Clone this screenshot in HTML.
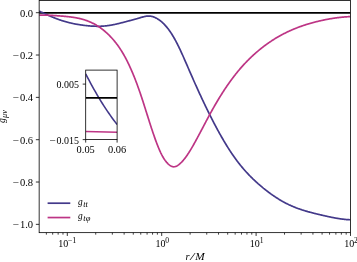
<!DOCTYPE html>
<html><head><meta charset="utf-8"><title>g_mu_nu plot</title>
<style>
html,body{margin:0;padding:0;background:#fff;width:357px;height:262px;overflow:hidden;}
svg{display:block;}
text{font-family:"Liberation Serif",serif;font-size:10px;fill:#000;}
.it{font-style:italic;}
.sup{font-size:7.6px;}
</style></head><body>
<svg width="357" height="262" viewBox="0 0 357 262">
<rect width="357" height="262" fill="#fff"/>
<defs><clipPath id="ax"><rect x="39.15" y="0.5" width="311.3" height="232.15"/></clipPath>
<clipPath id="in"><rect x="85.7" y="70.1" width="31.4" height="69.5"/></clipPath></defs>

<g clip-path="url(#ax)" fill="none" stroke-linejoin="round">
<line x1="39.15" x2="350.45" y1="12.8" y2="12.8" stroke="#000" stroke-width="1.7"/>
<path d="M39.20,11.10 L39.65,11.31 L40.09,11.52 L40.54,11.73 L40.98,11.94 L41.43,12.15 L41.87,12.36 L42.32,12.57 L42.76,12.78 L43.21,12.99 L43.65,13.19 L44.10,13.40 L44.54,13.60 L44.99,13.81 L45.43,14.01 L45.88,14.21 L46.32,14.42 L46.77,14.62 L47.21,14.82 L47.66,15.02 L48.10,15.21 L48.55,15.41 L48.99,15.60 L49.44,15.80 L49.88,15.99 L50.33,16.18 L50.78,16.37 L51.22,16.56 L51.67,16.75 L52.11,16.94 L52.56,17.12 L53.00,17.30 L53.45,17.49 L53.89,17.67 L54.34,17.84 L54.78,18.02 L55.23,18.20 L55.67,18.37 L56.12,18.54 L56.56,18.71 L57.01,18.88 L57.45,19.04 L57.90,19.21 L58.34,19.37 L58.79,19.53 L59.23,19.68 L59.68,19.84 L60.12,19.99 L60.57,20.14 L61.02,20.29 L61.46,20.44 L61.91,20.58 L62.35,20.72 L62.80,20.86 L63.24,21.00 L63.69,21.14 L64.13,21.27 L64.58,21.40 L65.02,21.53 L65.47,21.66 L65.91,21.78 L66.36,21.91 L66.80,22.03 L67.25,22.15 L67.69,22.26 L68.14,22.38 L68.58,22.49 L69.03,22.60 L69.47,22.71 L69.92,22.82 L70.36,22.93 L70.81,23.03 L71.25,23.13 L71.70,23.23 L72.15,23.33 L72.59,23.43 L73.04,23.52 L73.48,23.62 L73.93,23.71 L74.37,23.80 L74.82,23.88 L75.26,23.97 L75.71,24.06 L76.15,24.14 L76.60,24.22 L77.04,24.30 L77.49,24.38 L77.93,24.45 L78.38,24.53 L78.82,24.60 L79.27,24.67 L79.71,24.74 L80.16,24.81 L80.60,24.88 L81.05,24.94 L81.49,25.01 L81.94,25.07 L82.39,25.13 L82.83,25.19 L83.28,25.25 L83.72,25.31 L84.17,25.36 L84.61,25.42 L85.06,25.47 L85.50,25.52 L85.95,25.57 L86.39,25.62 L86.84,25.67 L87.28,25.72 L87.73,25.76 L88.17,25.80 L88.62,25.84 L89.06,25.88 L89.51,25.92 L89.95,25.96 L90.40,25.99 L90.84,26.03 L91.29,26.06 L91.73,26.09 L92.18,26.11 L92.62,26.14 L93.07,26.16 L93.52,26.18 L93.96,26.20 L94.41,26.22 L94.85,26.24 L95.30,26.25 L95.74,26.26 L96.19,26.27 L96.63,26.28 L97.08,26.28 L97.52,26.28 L97.97,26.28 L98.41,26.28 L98.86,26.28 L99.30,26.27 L99.75,26.26 L100.19,26.25 L100.64,26.23 L101.08,26.21 L101.53,26.19 L101.97,26.17 L102.42,26.15 L102.86,26.12 L103.31,26.09 L103.76,26.05 L104.20,26.02 L104.65,25.98 L105.09,25.94 L105.54,25.89 L105.98,25.84 L106.43,25.79 L106.87,25.74 L107.32,25.68 L107.76,25.62 L108.21,25.56 L108.65,25.50 L109.10,25.43 L109.54,25.36 L109.99,25.29 L110.43,25.22 L110.88,25.14 L111.32,25.06 L111.77,24.98 L112.21,24.90 L112.66,24.82 L113.10,24.73 L113.55,24.64 L113.99,24.55 L114.44,24.46 L114.89,24.37 L115.33,24.27 L115.78,24.18 L116.22,24.08 L116.67,23.98 L117.11,23.88 L117.56,23.78 L118.00,23.67 L118.45,23.57 L118.89,23.46 L119.34,23.35 L119.78,23.25 L120.23,23.14 L120.67,23.03 L121.12,22.91 L121.56,22.80 L122.01,22.69 L122.45,22.58 L122.90,22.46 L123.34,22.35 L123.79,22.23 L124.23,22.11 L124.68,22.00 L125.13,21.88 L125.57,21.76 L126.02,21.65 L126.46,21.53 L126.91,21.41 L127.35,21.29 L127.80,21.17 L128.24,21.05 L128.69,20.93 L129.13,20.81 L129.58,20.69 L130.02,20.57 L130.47,20.45 L130.91,20.33 L131.36,20.21 L131.80,20.08 L132.25,19.96 L132.69,19.84 L133.14,19.71 L133.58,19.59 L134.03,19.47 L134.47,19.34 L134.92,19.22 L135.36,19.09 L135.81,18.96 L136.26,18.84 L136.70,18.71 L137.15,18.59 L137.59,18.46 L138.04,18.33 L138.48,18.20 L138.93,18.07 L139.37,17.95 L139.82,17.82 L140.26,17.69 L140.71,17.56 L141.15,17.43 L141.60,17.30 L142.04,17.18 L142.49,17.06 L142.93,16.94 L143.38,16.82 L143.82,16.71 L144.27,16.61 L144.71,16.51 L145.16,16.42 L145.60,16.34 L146.05,16.27 L146.49,16.20 L146.94,16.15 L147.39,16.11 L147.83,16.07 L148.28,16.05 L148.72,16.05 L149.17,16.05 L149.61,16.07 L150.06,16.11 L150.50,16.16 L150.95,16.22 L151.39,16.31 L151.84,16.40 L152.28,16.51 L152.73,16.64 L153.17,16.78 L153.62,16.93 L154.06,17.10 L154.51,17.28 L154.95,17.47 L155.40,17.68 L155.84,17.90 L156.29,18.13 L156.73,18.37 L157.18,18.63 L157.63,18.90 L158.07,19.17 L158.52,19.47 L158.96,19.77 L159.41,20.08 L159.85,20.41 L160.30,20.75 L160.74,21.10 L161.19,21.46 L161.63,21.84 L162.08,22.23 L162.52,22.63 L162.97,23.04 L163.41,23.47 L163.86,23.91 L164.30,24.36 L164.75,24.83 L165.19,25.31 L165.64,25.81 L166.08,26.32 L166.53,26.85 L166.97,27.39 L167.42,27.94 L167.86,28.51 L168.31,29.09 L168.76,29.69 L169.20,30.30 L169.65,30.92 L170.09,31.56 L170.54,32.21 L170.98,32.88 L171.43,33.57 L171.87,34.26 L172.32,34.97 L172.76,35.70 L173.21,36.44 L173.65,37.19 L174.10,37.96 L174.54,38.75 L174.99,39.54 L175.43,40.36 L175.88,41.18 L176.32,42.02 L176.77,42.88 L177.21,43.75 L177.66,44.63 L178.10,45.52 L178.55,46.43 L179.00,47.34 L179.44,48.27 L179.89,49.21 L180.33,50.15 L180.78,51.11 L181.22,52.07 L181.67,53.05 L182.11,54.03 L182.56,55.02 L183.00,56.01 L183.45,57.01 L183.89,58.02 L184.34,59.03 L184.78,60.04 L185.23,61.06 L185.67,62.08 L186.12,63.11 L186.56,64.13 L187.01,65.16 L187.45,66.19 L187.90,67.22 L188.34,68.25 L188.79,69.28 L189.23,70.31 L189.68,71.34 L190.13,72.37 L190.57,73.39 L191.02,74.41 L191.46,75.43 L191.91,76.45 L192.35,77.46 L192.80,78.47 L193.24,79.48 L193.69,80.48 L194.13,81.49 L194.58,82.49 L195.02,83.48 L195.47,84.48 L195.91,85.47 L196.36,86.46 L196.80,87.45 L197.25,88.43 L197.69,89.41 L198.14,90.39 L198.58,91.36 L199.03,92.33 L199.47,93.30 L199.92,94.27 L200.37,95.23 L200.81,96.19 L201.26,97.15 L201.70,98.10 L202.15,99.05 L202.59,100.00 L203.04,100.94 L203.48,101.88 L203.93,102.82 L204.37,103.75 L204.82,104.68 L205.26,105.61 L205.71,106.53 L206.15,107.45 L206.60,108.37 L207.04,109.28 L207.49,110.19 L207.93,111.10 L208.38,112.00 L208.82,112.90 L209.27,113.80 L209.71,114.69 L210.16,115.58 L210.60,116.46 L211.05,117.34 L211.50,118.22 L211.94,119.09 L212.39,119.96 L212.83,120.82 L213.28,121.69 L213.72,122.54 L214.17,123.40 L214.61,124.25 L215.06,125.09 L215.50,125.93 L215.95,126.77 L216.39,127.60 L216.84,128.43 L217.28,129.25 L217.73,130.07 L218.17,130.89 L218.62,131.70 L219.06,132.50 L219.51,133.30 L219.95,134.10 L220.40,134.89 L220.84,135.68 L221.29,136.46 L221.74,137.24 L222.18,138.02 L222.63,138.79 L223.07,139.55 L223.52,140.31 L223.96,141.06 L224.41,141.81 L224.85,142.56 L225.30,143.30 L225.74,144.03 L226.19,144.76 L226.63,145.49 L227.08,146.21 L227.52,146.92 L227.97,147.63 L228.41,148.33 L228.86,149.03 L229.30,149.72 L229.75,150.41 L230.19,151.09 L230.64,151.77 L231.08,152.44 L231.53,153.11 L231.97,153.77 L232.42,154.42 L232.87,155.07 L233.31,155.71 L233.76,156.35 L234.20,156.98 L234.65,157.61 L235.09,158.23 L235.54,158.84 L235.98,159.45 L236.43,160.05 L236.87,160.65 L237.32,161.24 L237.76,161.82 L238.21,162.40 L238.65,162.98 L239.10,163.55 L239.54,164.11 L239.99,164.67 L240.43,165.22 L240.88,165.77 L241.32,166.32 L241.77,166.85 L242.21,167.39 L242.66,167.92 L243.11,168.44 L243.55,168.96 L244.00,169.47 L244.44,169.98 L244.89,170.49 L245.33,170.99 L245.78,171.48 L246.22,171.97 L246.67,172.46 L247.11,172.94 L247.56,173.42 L248.00,173.89 L248.45,174.36 L248.89,174.83 L249.34,175.29 L249.78,175.75 L250.23,176.20 L250.67,176.65 L251.12,177.10 L251.56,177.54 L252.01,177.98 L252.45,178.42 L252.90,178.85 L253.34,179.28 L253.79,179.70 L254.24,180.12 L254.68,180.54 L255.13,180.96 L255.57,181.37 L256.02,181.78 L256.46,182.18 L256.91,182.59 L257.35,182.99 L257.80,183.38 L258.24,183.78 L258.69,184.17 L259.13,184.56 L259.58,184.95 L260.02,185.33 L260.47,185.71 L260.91,186.09 L261.36,186.47 L261.80,186.84 L262.25,187.21 L262.69,187.58 L263.14,187.94 L263.58,188.31 L264.03,188.67 L264.47,189.03 L264.92,189.38 L265.37,189.74 L265.81,190.09 L266.26,190.44 L266.70,190.78 L267.15,191.12 L267.59,191.46 L268.04,191.80 L268.48,192.14 L268.93,192.47 L269.37,192.80 L269.82,193.13 L270.26,193.45 L270.71,193.78 L271.15,194.10 L271.60,194.41 L272.04,194.73 L272.49,195.04 L272.93,195.35 L273.38,195.66 L273.82,195.96 L274.27,196.26 L274.71,196.56 L275.16,196.86 L275.61,197.15 L276.05,197.44 L276.50,197.73 L276.94,198.01 L277.39,198.30 L277.83,198.58 L278.28,198.86 L278.72,199.13 L279.17,199.40 L279.61,199.67 L280.06,199.94 L280.50,200.20 L280.95,200.47 L281.39,200.73 L281.84,200.98 L282.28,201.24 L282.73,201.49 L283.17,201.74 L283.62,201.98 L284.06,202.22 L284.51,202.46 L284.95,202.70 L285.40,202.94 L285.84,203.17 L286.29,203.40 L286.74,203.62 L287.18,203.85 L287.63,204.07 L288.07,204.29 L288.52,204.50 L288.96,204.72 L289.41,204.93 L289.85,205.13 L290.30,205.34 L290.74,205.54 L291.19,205.74 L291.63,205.94 L292.08,206.13 L292.52,206.32 L292.97,206.51 L293.41,206.70 L293.86,206.88 L294.30,207.06 L294.75,207.24 L295.19,207.42 L295.64,207.59 L296.08,207.77 L296.53,207.94 L296.98,208.10 L297.42,208.27 L297.87,208.43 L298.31,208.60 L298.76,208.75 L299.20,208.91 L299.65,209.07 L300.09,209.22 L300.54,209.37 L300.98,209.52 L301.43,209.67 L301.87,209.82 L302.32,209.96 L302.76,210.10 L303.21,210.24 L303.65,210.38 L304.10,210.52 L304.54,210.66 L304.99,210.79 L305.43,210.93 L305.88,211.06 L306.32,211.19 L306.77,211.32 L307.21,211.44 L307.66,211.57 L308.11,211.70 L308.55,211.82 L309.00,211.94 L309.44,212.06 L309.89,212.19 L310.33,212.30 L310.78,212.42 L311.22,212.54 L311.67,212.66 L312.11,212.77 L312.56,212.89 L313.00,213.00 L313.45,213.11 L313.89,213.23 L314.34,213.34 L314.78,213.45 L315.23,213.56 L315.67,213.67 L316.12,213.78 L316.56,213.89 L317.01,213.99 L317.45,214.10 L317.90,214.21 L318.35,214.31 L318.79,214.42 L319.24,214.53 L319.68,214.63 L320.13,214.74 L320.57,214.84 L321.02,214.95 L321.46,215.05 L321.91,215.16 L322.35,215.26 L322.80,215.37 L323.24,215.47 L323.69,215.57 L324.13,215.67 L324.58,215.78 L325.02,215.88 L325.47,215.98 L325.91,216.08 L326.36,216.18 L326.80,216.28 L327.25,216.38 L327.69,216.47 L328.14,216.57 L328.58,216.67 L329.03,216.76 L329.48,216.86 L329.92,216.95 L330.37,217.04 L330.81,217.13 L331.26,217.23 L331.70,217.32 L332.15,217.40 L332.59,217.49 L333.04,217.58 L333.48,217.66 L333.93,217.75 L334.37,217.83 L334.82,217.91 L335.26,218.00 L335.71,218.07 L336.15,218.15 L336.60,218.23 L337.04,218.31 L337.49,218.38 L337.93,218.45 L338.38,218.52 L338.82,218.59 L339.27,218.66 L339.72,218.73 L340.16,218.79 L340.61,218.86 L341.05,218.92 L341.50,218.98 L341.94,219.04 L342.39,219.10 L342.83,219.15 L343.28,219.21 L343.72,219.26 L344.17,219.31 L344.61,219.36 L345.06,219.40 L345.50,219.45 L345.95,219.49 L346.39,219.53 L346.84,219.57 L347.28,219.60 L347.73,219.64 L348.17,219.67 L348.62,219.70 L349.06,219.72 L349.51,219.75 L349.95,219.77 L350.40,219.79" stroke="#43398a" stroke-width="1.7"/>
<path d="M39.20,15.20 L39.65,15.18 L40.09,15.17 L40.54,15.16 L40.98,15.15 L41.43,15.14 L41.87,15.13 L42.32,15.13 L42.76,15.13 L43.21,15.13 L43.65,15.13 L44.10,15.13 L44.54,15.14 L44.99,15.14 L45.43,15.15 L45.88,15.16 L46.32,15.17 L46.77,15.18 L47.21,15.19 L47.66,15.21 L48.10,15.22 L48.55,15.24 L48.99,15.26 L49.44,15.28 L49.88,15.30 L50.33,15.32 L50.78,15.34 L51.22,15.37 L51.67,15.39 L52.11,15.42 L52.56,15.44 L53.00,15.47 L53.45,15.50 L53.89,15.53 L54.34,15.56 L54.78,15.59 L55.23,15.62 L55.67,15.65 L56.12,15.68 L56.56,15.71 L57.01,15.74 L57.45,15.78 L57.90,15.81 L58.34,15.84 L58.79,15.88 L59.23,15.91 L59.68,15.94 L60.12,15.98 L60.57,16.01 L61.02,16.05 L61.46,16.08 L61.91,16.12 L62.35,16.15 L62.80,16.19 L63.24,16.22 L63.69,16.26 L64.13,16.30 L64.58,16.34 L65.02,16.38 L65.47,16.42 L65.91,16.46 L66.36,16.50 L66.80,16.54 L67.25,16.59 L67.69,16.63 L68.14,16.68 L68.58,16.73 L69.03,16.78 L69.47,16.83 L69.92,16.88 L70.36,16.93 L70.81,16.99 L71.25,17.05 L71.70,17.10 L72.15,17.17 L72.59,17.23 L73.04,17.29 L73.48,17.36 L73.93,17.43 L74.37,17.50 L74.82,17.57 L75.26,17.65 L75.71,17.73 L76.15,17.81 L76.60,17.89 L77.04,17.98 L77.49,18.07 L77.93,18.16 L78.38,18.25 L78.82,18.35 L79.27,18.45 L79.71,18.55 L80.16,18.66 L80.60,18.77 L81.05,18.88 L81.49,19.00 L81.94,19.12 L82.39,19.24 L82.83,19.37 L83.28,19.50 L83.72,19.63 L84.17,19.77 L84.61,19.91 L85.06,20.05 L85.50,20.20 L85.95,20.35 L86.39,20.51 L86.84,20.67 L87.28,20.83 L87.73,21.00 L88.17,21.17 L88.62,21.35 L89.06,21.53 L89.51,21.72 L89.95,21.91 L90.40,22.10 L90.84,22.30 L91.29,22.51 L91.73,22.72 L92.18,22.93 L92.62,23.15 L93.07,23.37 L93.52,23.60 L93.96,23.83 L94.41,24.07 L94.85,24.32 L95.30,24.57 L95.74,24.82 L96.19,25.08 L96.63,25.35 L97.08,25.62 L97.52,25.89 L97.97,26.17 L98.41,26.46 L98.86,26.76 L99.30,27.05 L99.75,27.36 L100.19,27.67 L100.64,27.99 L101.08,28.31 L101.53,28.64 L101.97,28.97 L102.42,29.31 L102.86,29.66 L103.31,30.02 L103.76,30.37 L104.20,30.74 L104.65,31.11 L105.09,31.49 L105.54,31.88 L105.98,32.27 L106.43,32.67 L106.87,33.08 L107.32,33.49 L107.76,33.91 L108.21,34.33 L108.65,34.77 L109.10,35.21 L109.54,35.66 L109.99,36.11 L110.43,36.57 L110.88,37.04 L111.32,37.52 L111.77,38.00 L112.21,38.50 L112.66,39.00 L113.10,39.50 L113.55,40.02 L113.99,40.55 L114.44,41.08 L114.89,41.63 L115.33,42.18 L115.78,42.75 L116.22,43.32 L116.67,43.91 L117.11,44.50 L117.56,45.10 L118.00,45.72 L118.45,46.34 L118.89,46.98 L119.34,47.63 L119.78,48.29 L120.23,48.96 L120.67,49.64 L121.12,50.34 L121.56,51.05 L122.01,51.77 L122.45,52.50 L122.90,53.24 L123.34,54.00 L123.79,54.78 L124.23,55.56 L124.68,56.36 L125.13,57.17 L125.57,58.00 L126.02,58.84 L126.46,59.70 L126.91,60.57 L127.35,61.45 L127.80,62.35 L128.24,63.26 L128.69,64.18 L129.13,65.13 L129.58,66.08 L130.02,67.05 L130.47,68.03 L130.91,69.03 L131.36,70.04 L131.80,71.07 L132.25,72.11 L132.69,73.16 L133.14,74.23 L133.58,75.31 L134.03,76.41 L134.47,77.52 L134.92,78.65 L135.36,79.79 L135.81,80.94 L136.26,82.11 L136.70,83.30 L137.15,84.50 L137.59,85.71 L138.04,86.94 L138.48,88.18 L138.93,89.44 L139.37,90.71 L139.82,92.00 L140.26,93.30 L140.71,94.61 L141.15,95.94 L141.60,97.28 L142.04,98.63 L142.49,99.99 L142.93,101.36 L143.38,102.74 L143.82,104.13 L144.27,105.52 L144.71,106.92 L145.16,108.33 L145.60,109.73 L146.05,111.14 L146.49,112.55 L146.94,113.96 L147.39,115.37 L147.83,116.78 L148.28,118.19 L148.72,119.60 L149.17,121.00 L149.61,122.39 L150.06,123.78 L150.50,125.16 L150.95,126.54 L151.39,127.90 L151.84,129.26 L152.28,130.60 L152.73,131.93 L153.17,133.25 L153.62,134.56 L154.06,135.85 L154.51,137.12 L154.95,138.38 L155.40,139.62 L155.84,140.84 L156.29,142.04 L156.73,143.22 L157.18,144.38 L157.63,145.52 L158.07,146.63 L158.52,147.72 L158.96,148.78 L159.41,149.82 L159.85,150.83 L160.30,151.81 L160.74,152.76 L161.19,153.67 L161.63,154.56 L162.08,155.42 L162.52,156.24 L162.97,157.03 L163.41,157.78 L163.86,158.50 L164.30,159.20 L164.75,159.86 L165.19,160.49 L165.64,161.08 L166.08,161.65 L166.53,162.19 L166.97,162.70 L167.42,163.18 L167.86,163.64 L168.31,164.06 L168.76,164.46 L169.20,164.82 L169.65,165.17 L170.09,165.48 L170.54,165.76 L170.98,166.01 L171.43,166.23 L171.87,166.41 L172.32,166.56 L172.76,166.67 L173.21,166.75 L173.65,166.78 L174.10,166.78 L174.54,166.73 L174.99,166.65 L175.43,166.53 L175.88,166.37 L176.32,166.18 L176.77,165.96 L177.21,165.72 L177.66,165.44 L178.10,165.14 L178.55,164.82 L179.00,164.48 L179.44,164.12 L179.89,163.74 L180.33,163.34 L180.78,162.93 L181.22,162.49 L181.67,162.04 L182.11,161.58 L182.56,161.09 L183.00,160.59 L183.45,160.08 L183.89,159.55 L184.34,159.00 L184.78,158.44 L185.23,157.86 L185.67,157.27 L186.12,156.66 L186.56,156.04 L187.01,155.40 L187.45,154.75 L187.90,154.09 L188.34,153.41 L188.79,152.73 L189.23,152.03 L189.68,151.32 L190.13,150.60 L190.57,149.87 L191.02,149.13 L191.46,148.38 L191.91,147.63 L192.35,146.86 L192.80,146.09 L193.24,145.31 L193.69,144.52 L194.13,143.73 L194.58,142.93 L195.02,142.13 L195.47,141.32 L195.91,140.51 L196.36,139.69 L196.80,138.87 L197.25,138.04 L197.69,137.22 L198.14,136.39 L198.58,135.56 L199.03,134.72 L199.47,133.89 L199.92,133.05 L200.37,132.21 L200.81,131.37 L201.26,130.52 L201.70,129.68 L202.15,128.83 L202.59,127.99 L203.04,127.14 L203.48,126.30 L203.93,125.45 L204.37,124.61 L204.82,123.76 L205.26,122.92 L205.71,122.07 L206.15,121.23 L206.60,120.39 L207.04,119.55 L207.49,118.72 L207.93,117.88 L208.38,117.05 L208.82,116.22 L209.27,115.40 L209.71,114.57 L210.16,113.75 L210.60,112.94 L211.05,112.13 L211.50,111.32 L211.94,110.51 L212.39,109.71 L212.83,108.92 L213.28,108.13 L213.72,107.34 L214.17,106.56 L214.61,105.78 L215.06,105.01 L215.50,104.24 L215.95,103.48 L216.39,102.72 L216.84,101.96 L217.28,101.21 L217.73,100.47 L218.17,99.73 L218.62,98.99 L219.06,98.26 L219.51,97.53 L219.95,96.81 L220.40,96.09 L220.84,95.37 L221.29,94.67 L221.74,93.96 L222.18,93.26 L222.63,92.56 L223.07,91.87 L223.52,91.19 L223.96,90.50 L224.41,89.82 L224.85,89.15 L225.30,88.48 L225.74,87.82 L226.19,87.16 L226.63,86.50 L227.08,85.85 L227.52,85.21 L227.97,84.56 L228.41,83.93 L228.86,83.29 L229.30,82.66 L229.75,82.04 L230.19,81.42 L230.64,80.81 L231.08,80.20 L231.53,79.59 L231.97,78.99 L232.42,78.39 L232.87,77.80 L233.31,77.21 L233.76,76.63 L234.20,76.05 L234.65,75.48 L235.09,74.91 L235.54,74.34 L235.98,73.78 L236.43,73.22 L236.87,72.67 L237.32,72.13 L237.76,71.58 L238.21,71.04 L238.65,70.51 L239.10,69.98 L239.54,69.45 L239.99,68.93 L240.43,68.41 L240.88,67.90 L241.32,67.39 L241.77,66.89 L242.21,66.39 L242.66,65.89 L243.11,65.39 L243.55,64.91 L244.00,64.42 L244.44,63.94 L244.89,63.46 L245.33,62.99 L245.78,62.52 L246.22,62.05 L246.67,61.59 L247.11,61.13 L247.56,60.68 L248.00,60.23 L248.45,59.78 L248.89,59.34 L249.34,58.90 L249.78,58.46 L250.23,58.03 L250.67,57.60 L251.12,57.17 L251.56,56.75 L252.01,56.33 L252.45,55.91 L252.90,55.50 L253.34,55.09 L253.79,54.69 L254.24,54.28 L254.68,53.88 L255.13,53.49 L255.57,53.09 L256.02,52.70 L256.46,52.32 L256.91,51.93 L257.35,51.55 L257.80,51.18 L258.24,50.80 L258.69,50.43 L259.13,50.06 L259.58,49.70 L260.02,49.33 L260.47,48.97 L260.91,48.62 L261.36,48.26 L261.80,47.91 L262.25,47.56 L262.69,47.21 L263.14,46.87 L263.58,46.53 L264.03,46.19 L264.47,45.86 L264.92,45.53 L265.37,45.20 L265.81,44.87 L266.26,44.55 L266.70,44.22 L267.15,43.90 L267.59,43.59 L268.04,43.27 L268.48,42.96 L268.93,42.65 L269.37,42.35 L269.82,42.05 L270.26,41.74 L270.71,41.45 L271.15,41.15 L271.60,40.86 L272.04,40.57 L272.49,40.28 L272.93,39.99 L273.38,39.71 L273.82,39.43 L274.27,39.15 L274.71,38.87 L275.16,38.60 L275.61,38.33 L276.05,38.06 L276.50,37.79 L276.94,37.53 L277.39,37.27 L277.83,37.01 L278.28,36.75 L278.72,36.49 L279.17,36.24 L279.61,35.99 L280.06,35.74 L280.50,35.49 L280.95,35.25 L281.39,35.01 L281.84,34.77 L282.28,34.53 L282.73,34.30 L283.17,34.06 L283.62,33.83 L284.06,33.60 L284.51,33.38 L284.95,33.15 L285.40,32.93 L285.84,32.71 L286.29,32.49 L286.74,32.27 L287.18,32.06 L287.63,31.84 L288.07,31.63 L288.52,31.43 L288.96,31.22 L289.41,31.01 L289.85,30.81 L290.30,30.61 L290.74,30.41 L291.19,30.21 L291.63,30.02 L292.08,29.82 L292.52,29.63 L292.97,29.44 L293.41,29.26 L293.86,29.07 L294.30,28.89 L294.75,28.70 L295.19,28.52 L295.64,28.34 L296.08,28.17 L296.53,27.99 L296.98,27.82 L297.42,27.64 L297.87,27.47 L298.31,27.31 L298.76,27.14 L299.20,26.97 L299.65,26.81 L300.09,26.65 L300.54,26.49 L300.98,26.33 L301.43,26.17 L301.87,26.01 L302.32,25.86 L302.76,25.71 L303.21,25.56 L303.65,25.41 L304.10,25.26 L304.54,25.11 L304.99,24.97 L305.43,24.82 L305.88,24.68 L306.32,24.54 L306.77,24.40 L307.21,24.26 L307.66,24.13 L308.11,23.99 L308.55,23.86 L309.00,23.73 L309.44,23.59 L309.89,23.47 L310.33,23.34 L310.78,23.21 L311.22,23.08 L311.67,22.96 L312.11,22.84 L312.56,22.72 L313.00,22.59 L313.45,22.48 L313.89,22.36 L314.34,22.24 L314.78,22.12 L315.23,22.01 L315.67,21.90 L316.12,21.78 L316.56,21.67 L317.01,21.56 L317.45,21.46 L317.90,21.35 L318.35,21.24 L318.79,21.14 L319.24,21.03 L319.68,20.93 L320.13,20.83 L320.57,20.72 L321.02,20.62 L321.46,20.52 L321.91,20.43 L322.35,20.33 L322.80,20.23 L323.24,20.14 L323.69,20.05 L324.13,19.95 L324.58,19.86 L325.02,19.77 L325.47,19.68 L325.91,19.59 L326.36,19.51 L326.80,19.42 L327.25,19.33 L327.69,19.25 L328.14,19.17 L328.58,19.09 L329.03,19.01 L329.48,18.93 L329.92,18.85 L330.37,18.77 L330.81,18.70 L331.26,18.62 L331.70,18.55 L332.15,18.47 L332.59,18.40 L333.04,18.33 L333.48,18.27 L333.93,18.20 L334.37,18.13 L334.82,18.07 L335.26,18.00 L335.71,17.94 L336.15,17.88 L336.60,17.82 L337.04,17.76 L337.49,17.70 L337.93,17.65 L338.38,17.59 L338.82,17.54 L339.27,17.48 L339.72,17.43 L340.16,17.38 L340.61,17.33 L341.05,17.29 L341.50,17.24 L341.94,17.20 L342.39,17.15 L342.83,17.11 L343.28,17.07 L343.72,17.03 L344.17,16.99 L344.61,16.96 L345.06,16.92 L345.50,16.89 L345.95,16.85 L346.39,16.82 L346.84,16.79 L347.28,16.76 L347.73,16.74 L348.17,16.71 L348.62,16.69 L349.06,16.66 L349.51,16.64 L349.95,16.62 L350.40,16.60" stroke="#bd3585" stroke-width="1.7"/>
</g>
<rect x="39.15" y="0.5" width="311.3" height="232.15" fill="none" stroke="#000" stroke-width="0.8"/>
<line x1="35.85" x2="39.15" y1="12.70" y2="12.70" stroke="#000" stroke-width="0.8"/>
<text><tspan x="33.1" y="16.60" text-anchor="end" textLength="13.2" lengthAdjust="spacingAndGlyphs">0.0</tspan></text>
<line x1="35.85" x2="39.15" y1="55.03" y2="55.03" stroke="#000" stroke-width="0.8"/>
<text><tspan x="12.8" y="58.93" textLength="6.4" lengthAdjust="spacingAndGlyphs">−</tspan><tspan x="33.1" y="58.93" text-anchor="end" textLength="13.2" lengthAdjust="spacingAndGlyphs">0.2</tspan></text>
<line x1="35.85" x2="39.15" y1="97.36" y2="97.36" stroke="#000" stroke-width="0.8"/>
<text><tspan x="12.8" y="101.26" textLength="6.4" lengthAdjust="spacingAndGlyphs">−</tspan><tspan x="33.1" y="101.26" text-anchor="end" textLength="13.2" lengthAdjust="spacingAndGlyphs">0.4</tspan></text>
<line x1="35.85" x2="39.15" y1="139.69" y2="139.69" stroke="#000" stroke-width="0.8"/>
<text><tspan x="12.8" y="143.59" textLength="6.4" lengthAdjust="spacingAndGlyphs">−</tspan><tspan x="33.1" y="143.59" text-anchor="end" textLength="13.2" lengthAdjust="spacingAndGlyphs">0.6</tspan></text>
<line x1="35.85" x2="39.15" y1="182.02" y2="182.02" stroke="#000" stroke-width="0.8"/>
<text><tspan x="12.8" y="185.92" textLength="6.4" lengthAdjust="spacingAndGlyphs">−</tspan><tspan x="33.1" y="185.92" text-anchor="end" textLength="13.2" lengthAdjust="spacingAndGlyphs">0.8</tspan></text>
<line x1="35.85" x2="39.15" y1="224.35" y2="224.35" stroke="#000" stroke-width="0.8"/>
<text><tspan x="12.8" y="228.25" textLength="6.4" lengthAdjust="spacingAndGlyphs">−</tspan><tspan x="33.1" y="228.25" text-anchor="end" textLength="13.2" lengthAdjust="spacingAndGlyphs">1.0</tspan></text>
<line x1="67.30" x2="67.30" y1="232.65" y2="235.95000000000002" stroke="#000" stroke-width="0.8"/>
<text><tspan x="58.20" y="247.1">10</tspan><tspan class="sup" x="67.70" y="243.0" textLength="8.6" lengthAdjust="spacingAndGlyphs">−1</tspan></text>
<line x1="161.70" x2="161.70" y1="232.65" y2="235.95000000000002" stroke="#000" stroke-width="0.8"/>
<text><tspan x="155.40" y="247.1">10</tspan><tspan class="sup" x="165.30" y="243.0">0</tspan></text>
<line x1="256.10" x2="256.10" y1="232.65" y2="235.95000000000002" stroke="#000" stroke-width="0.8"/>
<text><tspan x="249.80" y="247.1">10</tspan><tspan class="sup" x="259.70" y="243.0">1</tspan></text>
<line x1="350.50" x2="350.50" y1="232.65" y2="235.95000000000002" stroke="#000" stroke-width="0.8"/>
<text><tspan x="344.20" y="247.1">10</tspan><tspan class="sup" x="354.10" y="243.0">2</tspan></text>
<line x1="46.36" x2="46.36" y1="232.65" y2="234.65" stroke="#000" stroke-width="0.75"/>
<line x1="52.68" x2="52.68" y1="232.65" y2="234.65" stroke="#000" stroke-width="0.75"/>
<line x1="58.15" x2="58.15" y1="232.65" y2="234.65" stroke="#000" stroke-width="0.75"/>
<line x1="62.98" x2="62.98" y1="232.65" y2="234.65" stroke="#000" stroke-width="0.75"/>
<line x1="95.72" x2="95.72" y1="232.65" y2="234.65" stroke="#000" stroke-width="0.75"/>
<line x1="112.34" x2="112.34" y1="232.65" y2="234.65" stroke="#000" stroke-width="0.75"/>
<line x1="124.13" x2="124.13" y1="232.65" y2="234.65" stroke="#000" stroke-width="0.75"/>
<line x1="133.28" x2="133.28" y1="232.65" y2="234.65" stroke="#000" stroke-width="0.75"/>
<line x1="140.76" x2="140.76" y1="232.65" y2="234.65" stroke="#000" stroke-width="0.75"/>
<line x1="147.08" x2="147.08" y1="232.65" y2="234.65" stroke="#000" stroke-width="0.75"/>
<line x1="152.55" x2="152.55" y1="232.65" y2="234.65" stroke="#000" stroke-width="0.75"/>
<line x1="157.38" x2="157.38" y1="232.65" y2="234.65" stroke="#000" stroke-width="0.75"/>
<line x1="190.12" x2="190.12" y1="232.65" y2="234.65" stroke="#000" stroke-width="0.75"/>
<line x1="206.74" x2="206.74" y1="232.65" y2="234.65" stroke="#000" stroke-width="0.75"/>
<line x1="218.53" x2="218.53" y1="232.65" y2="234.65" stroke="#000" stroke-width="0.75"/>
<line x1="227.68" x2="227.68" y1="232.65" y2="234.65" stroke="#000" stroke-width="0.75"/>
<line x1="235.16" x2="235.16" y1="232.65" y2="234.65" stroke="#000" stroke-width="0.75"/>
<line x1="241.48" x2="241.48" y1="232.65" y2="234.65" stroke="#000" stroke-width="0.75"/>
<line x1="246.95" x2="246.95" y1="232.65" y2="234.65" stroke="#000" stroke-width="0.75"/>
<line x1="251.78" x2="251.78" y1="232.65" y2="234.65" stroke="#000" stroke-width="0.75"/>
<line x1="284.52" x2="284.52" y1="232.65" y2="234.65" stroke="#000" stroke-width="0.75"/>
<line x1="301.14" x2="301.14" y1="232.65" y2="234.65" stroke="#000" stroke-width="0.75"/>
<line x1="312.93" x2="312.93" y1="232.65" y2="234.65" stroke="#000" stroke-width="0.75"/>
<line x1="322.08" x2="322.08" y1="232.65" y2="234.65" stroke="#000" stroke-width="0.75"/>
<line x1="329.56" x2="329.56" y1="232.65" y2="234.65" stroke="#000" stroke-width="0.75"/>
<line x1="335.88" x2="335.88" y1="232.65" y2="234.65" stroke="#000" stroke-width="0.75"/>
<line x1="341.35" x2="341.35" y1="232.65" y2="234.65" stroke="#000" stroke-width="0.75"/>
<line x1="346.18" x2="346.18" y1="232.65" y2="234.65" stroke="#000" stroke-width="0.75"/>
<text class="it" y="259.7" style="font-size:10.4px"><tspan x="185.6">r</tspan><tspan x="190.2" textLength="4.2" lengthAdjust="spacingAndGlyphs">/</tspan><tspan x="195.2" textLength="9.4" lengthAdjust="spacingAndGlyphs">M</tspan></text>
<g transform="translate(5.0,123) rotate(-90)"><text class="it" x="0" y="0" style="font-size:9.6px">g</text><text class="it sup" x="5.1" y="2.0" textLength="7.8" lengthAdjust="spacingAndGlyphs">μν</text></g>
<line x1="47.6" x2="70.3" y1="203.2" y2="203.2" stroke="#43398a" stroke-width="1.7"/>
<line x1="47.6" x2="70.3" y1="217.55" y2="217.55" stroke="#bd3585" stroke-width="1.7"/>
<text class="it" x="77.9" y="204.9" style="font-size:9.4px">g</text><text class="it sup" x="83.3" y="207.0" textLength="4.6" lengthAdjust="spacingAndGlyphs">tt</text>
<text class="it" x="77.9" y="219.3" style="font-size:9.4px">g</text><text class="it sup" x="83.3" y="221.4" textLength="7.0" lengthAdjust="spacingAndGlyphs">tφ</text>
<rect x="85.7" y="70.1" width="31.39999999999999" height="69.5" fill="#fff"/>
<g clip-path="url(#in)" fill="none">
<path d="M85.70,73.80 L87.35,77.02 L89.01,80.18 L90.66,83.27 L92.31,86.31 L93.96,89.28 L95.62,92.19 L97.27,95.05 L98.92,97.84 L100.57,100.56 L102.23,103.23 L103.88,105.84 L105.53,108.38 L107.18,110.86 L108.84,113.29 L110.49,115.65 L112.14,117.94 L113.79,120.18 L115.45,122.36 L117.10,124.47" stroke="#43398a" stroke-width="1.6"/>
<path d="M85.7,131.5 L117.1,132.2" stroke="#bd3585" stroke-width="1.5"/>
<line x1="85.7" x2="117.1" y1="97.9" y2="97.9" stroke="#000" stroke-width="1.7"/>
</g>
<rect x="85.7" y="70.1" width="31.39999999999999" height="69.5" fill="none" stroke="#000" stroke-width="0.8"/>
<line x1="82.7" x2="85.7" y1="84.1" y2="84.1" stroke="#000" stroke-width="0.8"/>
<text><tspan x="79.0" y="88.00" text-anchor="end" textLength="22.4" lengthAdjust="spacingAndGlyphs">0.005</tspan></text>
<line x1="82.7" x2="85.7" y1="139.6" y2="139.6" stroke="#000" stroke-width="0.8"/>
<text><tspan x="49.6" y="143.50" textLength="6.4" lengthAdjust="spacingAndGlyphs">−</tspan><tspan x="79.0" y="143.50" text-anchor="end" textLength="22.4" lengthAdjust="spacingAndGlyphs">0.015</tspan></text>
<line x1="85.7" x2="85.7" y1="139.6" y2="142.6" stroke="#000" stroke-width="0.8"/>
<text x="85.7" y="153.4" text-anchor="middle" textLength="18.2" lengthAdjust="spacingAndGlyphs">0.05</text>
<line x1="117.1" x2="117.1" y1="139.6" y2="142.6" stroke="#000" stroke-width="0.8"/>
<text x="117.1" y="153.4" text-anchor="middle" textLength="18.2" lengthAdjust="spacingAndGlyphs">0.06</text>
</svg></body></html>
